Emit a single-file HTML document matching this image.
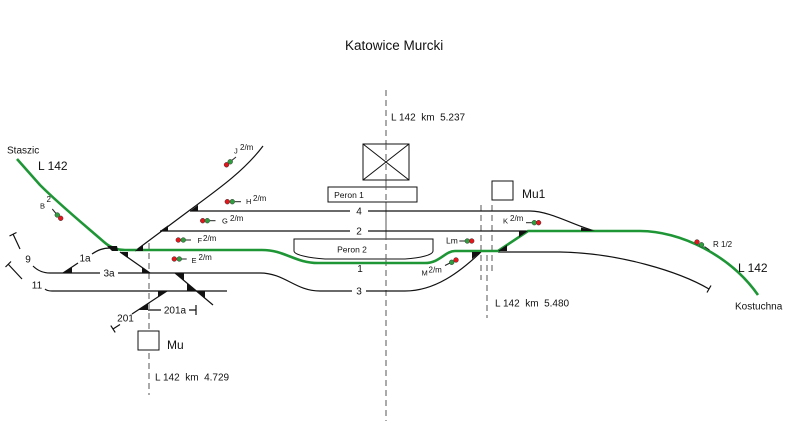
<!DOCTYPE html>
<html>
<head>
<meta charset="utf-8">
<style>
html,body{margin:0;padding:0;background:#fff;}
svg{display:block;}
text{font-family:"Liberation Sans",Arial,sans-serif;fill:#111;}
</style>
</head>
<body>
<svg width="787" height="421" viewBox="0 0 787 421" xmlns="http://www.w3.org/2000/svg">
<rect x="0" y="0" width="787" height="421" fill="#fff"/>

<!-- dashed km lines -->
<g stroke="#555" stroke-width="1" stroke-dasharray="6,4" fill="none">
  <line x1="386" y1="90" x2="386" y2="421"/>
  <line x1="149" y1="243" x2="149" y2="395"/>
  <line x1="481" y1="205" x2="481" y2="280"/>
  <line x1="492" y1="205" x2="492" y2="272"/>
  <line x1="487" y1="255" x2="487" y2="318"/>
</g>

<!-- buildings / platforms -->
<g stroke="#111" stroke-width="1" fill="none">
  <rect x="363" y="144" width="46" height="36" fill="#fff"/>
  <line x1="363" y1="144" x2="409" y2="180"/>
  <line x1="409" y1="144" x2="363" y2="180"/>
  <rect x="328" y="187" width="89" height="15" fill="#fff"/>
  <path d="M294,239 H433 V251 C433,255 420,258 405,259 H325 C310,258 294,255 294,251 Z" fill="#fff"/>
  <rect x="492" y="181" width="21" height="19" fill="#fff"/>
  <rect x="138" y="331" width="21" height="19" fill="#fff"/>
</g>
<line x1="386" y1="144" x2="386" y2="259" stroke="#555" stroke-width="1" stroke-dasharray="6,4"/>

<!-- black tracks -->
<g stroke="#111" stroke-width="1.2" fill="none" stroke-linecap="butt">
  <path d="M190,211 H350 M368,211 H530 C550,211 575,226 595,231"/>
  <path d="M160,231 H350 M368,231 H528"/>
  <path d="M135,251 L190,210 C220,188 245,170 263,146"/>
  <path d="M498,252 H560 C620,253 680,272 709,289"/>
  <path d="M711,285.5 L707,292.5"/>
  <path d="M50,273 H100 M118,273 H260 C285,273 295,291 320,291 H352 M366,291 H405 C435,291 460,272 481,252"/>
  <path d="M13,234 L20,249 M33,266 Q40,273 50,273"/>
  <path d="M9.5,236 L16.5,232.5"/>
  <path d="M63,273 L78,263 M92,254 C98,250 103,248 110,248 L118,249"/>
  <path d="M8,264 L22,279 M45,289 Q47,291 52,291 H227"/>
  <path d="M5.5,267 L11,261.5"/>
  <path d="M120,252 L150,273"/>
  <path d="M175,273 L213,305"/>
  <path d="M132,314 L167,291 M113,329 L120,324.5"/>
  <path d="M115.2,332.4 L110.8,325.6"/>
  <path d="M148,310 H161 M189,310 H196 M196,305 V315"/>
</g>

<!-- green main line -->
<path d="M17,159 L40,185 C60,205 88,228 104,242 Q113,250 125,250 L262,250 C285,250 295,263 318,263 L425,263 C440,263 445,251 455,251 L498,251 L528,231 L640,231 C680,231 730,255 758,295"
 stroke="#1e9636" stroke-width="2.6" fill="none"/>

<!-- switch triangles -->
<g fill="#111">
  <polygon points="135,251 143,251 143,245"/>
  <polygon points="160,231 168,231 168,225.4"/>
  <polygon points="190,211 198,211 198,205"/>
  <polygon points="63,273 72,273 72,267"/>
  <polygon points="107,246 117,246 118,251 112,251"/>
  <polygon points="120,252 128,252 128,257.6"/>
  <polygon points="142,267.5 142,273 150,273"/>
  <polygon points="175,273 184,273 184,280.5"/>
  <polygon points="187,283 187,291 196,291"/>
  <polygon points="196,291 205,291 205,298.6"/>
  <polygon points="158,291 167,291 158,297"/>
  <polygon points="138,310 148,310 148,303.4"/>
  <polygon points="472,252 481,252 472,259"/>
  <polygon points="498,251 507,251 507,245"/>
  <polygon points="519,231 528,231 519,237"/>
  <polygon points="581,231 595,231 581,227.5"/>
</g>

<!-- signals -->
<g stroke="#222" stroke-width="1" fill="none">
  <line x1="231.7" y1="160.5" x2="236" y2="157"/>
  <line x1="235" y1="201.7" x2="241" y2="201.7"/>
  <line x1="210" y1="220.7" x2="215.5" y2="220.7"/>
  <line x1="186" y1="240" x2="191" y2="240"/>
  <line x1="181.7" y1="259" x2="186.7" y2="259"/>
  <line x1="52.3" y1="209" x2="56" y2="213.5"/>
  <line x1="526" y1="222.7" x2="531.7" y2="222.7"/>
  <line x1="459.3" y1="241" x2="465" y2="241"/>
  <line x1="445" y1="265.5" x2="450" y2="263"/>
  <line x1="704.5" y1="246.5" x2="709.5" y2="250"/>
</g>
<g stroke="#333" stroke-width="0.5">
  <circle cx="226.5" cy="164.8" r="2.4" fill="#e4161c"/><circle cx="230.2" cy="161.8" r="2.4" fill="#2e9e3e"/>
  <circle cx="227.3" cy="201.7" r="2.4" fill="#e4161c"/><circle cx="232.3" cy="201.7" r="2.4" fill="#2e9e3e"/>
  <circle cx="202.7" cy="220.7" r="2.4" fill="#e4161c"/><circle cx="207.3" cy="220.7" r="2.4" fill="#2e9e3e"/>
  <circle cx="178.3" cy="240" r="2.4" fill="#e4161c"/><circle cx="183.3" cy="240" r="2.4" fill="#2e9e3e"/>
  <circle cx="174.3" cy="259" r="2.4" fill="#e4161c"/><circle cx="179.3" cy="259" r="2.4" fill="#2e9e3e"/>
  <circle cx="57.3" cy="215" r="2.4" fill="#2e9e3e"/><circle cx="60.7" cy="218.3" r="2.4" fill="#e4161c"/>
  <circle cx="534.3" cy="222.7" r="2.4" fill="#2e9e3e"/><circle cx="538.6" cy="222.7" r="2.4" fill="#e4161c"/>
  <circle cx="467.3" cy="241" r="2.4" fill="#2e9e3e"/><circle cx="471.7" cy="241" r="2.4" fill="#e4161c"/>
  <circle cx="451.7" cy="262.3" r="2.4" fill="#2e9e3e"/><circle cx="456" cy="260" r="2.4" fill="#e4161c"/>
  <circle cx="697" cy="242" r="2.4" fill="#e4161c"/><circle cx="701.5" cy="244.8" r="2.4" fill="#2e9e3e"/>
</g>

<!-- texts -->
<text x="345" y="50" font-size="13.5">Katowice Murcki</text>
<text x="391" y="120.5" font-size="10" xml:space="preserve">L 142  km  5.237</text>
<text x="155" y="380.5" font-size="10" xml:space="preserve">L 142  km  4.729</text>
<text x="495" y="306.5" font-size="10" xml:space="preserve">L 142  km  5.480</text>
<text x="7" y="153.5" font-size="10">Staszic</text>
<text x="38" y="170" font-size="12">L 142</text>
<text x="738" y="272" font-size="12">L 142</text>
<text x="735" y="309.5" font-size="10">Kostuchna</text>
<text x="522" y="198" font-size="12">Mu1</text>
<text x="167" y="349" font-size="12">Mu</text>
<text x="349" y="198" font-size="8.5" text-anchor="middle">Peron 1</text>
<text x="352" y="252.5" font-size="8.5" text-anchor="middle">Peron 2</text>

<text x="359" y="214.5" font-size="10" text-anchor="middle">4</text>
<text x="359" y="234.5" font-size="10" text-anchor="middle">2</text>
<text x="360" y="272" font-size="10" text-anchor="middle">1</text>
<text x="359" y="294.5" font-size="10" text-anchor="middle">3</text>
<text x="109" y="276.5" font-size="10" text-anchor="middle">3a</text>
<text x="85" y="261.5" font-size="10" text-anchor="middle">1a</text>
<text x="28" y="262.5" font-size="10" text-anchor="middle">9</text>
<text x="37" y="288.5" font-size="10" text-anchor="middle">11</text>
<text x="125.5" y="321.5" font-size="10" text-anchor="middle">201</text>
<text x="175" y="313.5" font-size="10" text-anchor="middle">201a</text>

<g font-size="7.5">
  <text x="234" y="153.5">J</text>
  <text x="246" y="204">H</text>
  <text x="222" y="223.5">G</text>
  <text x="197.5" y="243">F</text>
  <text x="191.5" y="263">E</text>
  <text x="503" y="223.5">K</text>
  <text x="421.5" y="275.5">M</text>
  <text x="40" y="208.5">B</text>
</g>
<g font-size="8">
  <text x="240" y="150">2/m</text>
  <text x="253" y="201">2/m</text>
  <text x="230" y="221">2/m</text>
  <text x="203" y="241">2/m</text>
  <text x="198.5" y="260">2/m</text>
  <text x="510" y="221">2/m</text>
  <text x="428.5" y="272.5">2/m</text>
  <text x="46.5" y="202">2</text>
  <text x="446" y="243.5" font-size="8.5">Lm</text>
  <text x="713" y="247">R 1/2</text>
</g>
</svg>
</body>
</html>
